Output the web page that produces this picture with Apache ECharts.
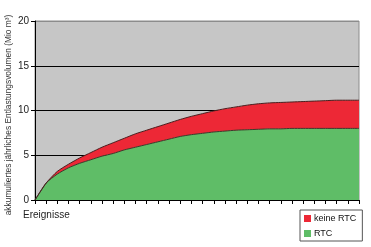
<!DOCTYPE html>
<html lang="de">
<head>
<meta charset="UTF-8">
<title>Entlastungsvolumen</title>
<style>
body { margin: 0; padding: 0; background: #fff; }
#chart { width: 371px; height: 247px; }
</style>
</head>
<body>
<div id="chart"></div>
<script src="https://cdn.jsdelivr.net/npm/echarts@6/dist/echarts.min.js"></script>
<script>
// Ereignisse (30 Punkte, ohne Beschriftung)
var ereignisse = [];
for (var i = 0; i < 30; i++) ereignisse.push('E' + (i + 1));

// RTC (untere Fläche)
var rtc = [0, 1.9, 2.9, 3.6, 4.1, 4.5, 4.9, 5.2, 5.6, 5.9,
           6.2, 6.5, 6.8, 7.1, 7.3, 7.45, 7.6, 7.7, 7.8, 7.85,
           7.9, 7.95, 7.95, 8.0, 8.0, 8.0, 8.0, 8.0, 8.0, 8.0];

// keine RTC (Zuwachs über RTC, gestapelt)
var keineRtc = [0, 0, 0.3, 0.4, 0.6, 0.8, 1.0, 1.2, 1.3, 1.5,
                1.6, 1.7, 1.8, 1.9, 2.05, 2.2, 2.35, 2.5, 2.6, 2.75,
                2.85, 2.9, 2.95, 2.95, 3.0, 3.05, 3.1, 3.15, 3.15, 3.15];

var yTicks = [0, 5, 10, 15, 20];

var font = 'Liberation Sans, Arial, sans-serif';
var myChart = echarts.init(document.getElementById('chart'));

myChart.setOption({
    animation: false,
    textStyle: { fontFamily: font },
    grid: {
        left: 35, right: 12, top: 21, bottom: 47,
        outerBoundsMode: 'none',
        containLabel: false,
        show: true,
        backgroundColor: '#c6c6c6',
        borderColor: '#8c8c8c',
        borderWidth: 1
    },
    legend: {
        orient: 'vertical',
        left: 300, top: 210,
        data: ['keine RTC', 'RTC'],
        icon: 'rect',
        itemWidth: 7, itemHeight: 7,
        itemGap: 6,
        padding: [4, 6, 3, 4],
        borderColor: '#555',
        borderWidth: 1,
        textStyle: { fontSize: 9, color: '#111', padding: [0, 0, 0, -2] }
    },
    graphic: [{
        type: 'text',
        left: 23, top: 210,
        style: { text: 'Ereignisse', fontSize: 10, fill: '#222', fontFamily: font }
    }, {
        // Achsentitel, gedreht
        type: 'text',
        x: 9, y: 115,
        rotation: Math.PI / 2,
        style: {
            text: 'akkumuliertes jährliches Entlastungsvolumen (Mio m³)',
            fontSize: 8.4, fill: '#333', fontFamily: font,
            align: 'center', verticalAlign: 'middle'
        }
    }],
    xAxis: {
        type: 'category',
        data: ereignisse,
        boundaryGap: false,
        axisLine: { lineStyle: { color: '#000', width: 1 } },
        axisTick: { show: true, interval: 0, length: 4, lineStyle: { color: '#000' } },
        axisLabel: { show: false },
        splitLine: { show: false }
    },
    yAxis: {
        type: 'value',
        min: yTicks[0], max: yTicks[yTicks.length - 1], interval: 5,
        axisLine: { show: true, lineStyle: { color: '#000', width: 1 } },
        axisTick: { show: true, length: 4, lineStyle: { color: '#000' } },
        axisLabel: { fontSize: 10, color: '#222', margin: 6 },
        splitLine: { show: true, lineStyle: { color: ['#000', '#000', '#000', '#000', '#8c8c8c'], width: 1 } }
    },
    series: [{
        name: 'RTC',
        type: 'line',
        stack: 'vol',
        data: rtc,
        symbol: 'none',
        smooth: 0.2,
        lineStyle: { color: '#3b3b2a', width: 1 },
        itemStyle: { color: '#5fbd67', borderColor: '#3b6b3b' },
        areaStyle: { color: '#5fbd67', opacity: 1 }
    }, {
        name: 'keine RTC',
        type: 'line',
        stack: 'vol',
        data: keineRtc,
        symbol: 'none',
        smooth: 0.2,
        lineStyle: { color: '#4a2020', width: 1 },
        itemStyle: { color: '#ed2836', borderColor: '#6b2a2a' },
        areaStyle: { color: '#ed2836', opacity: 1 }
    }]
});
</script>
</body>
</html>
